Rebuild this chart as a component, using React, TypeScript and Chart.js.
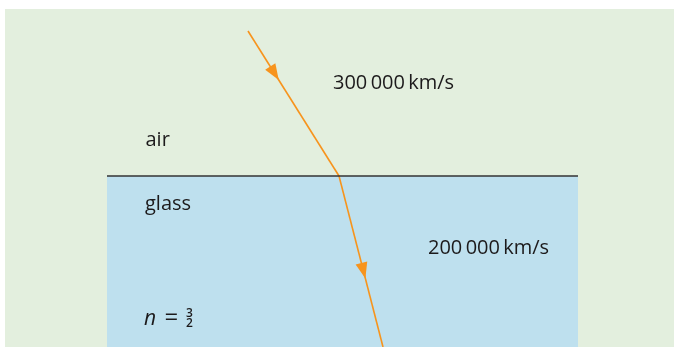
import React, { useEffect, useRef } from "react";
import { Chart, registerables } from "chart.js";
Chart.register(...registerables);

// Diagram coordinates (x to the right, y downward)
const airRegionX = [5, 674];
const airRegionY = [9, 347];
const glassRegionX = [107, 578];
const glassRegionY = [176, 347];
const interfaceX = [107, 578];
const interfaceY = [176, 176];
const incidentRayX = [248, 339];
const incidentRayY = [31, 176];
const refractedRayX = [339, 383];
const refractedRayY = [176, 347];
const arrowFractions = [0.338, 0.6];
const labelTexts = ["300\u2009000\u2009km/s", "air", "glass", "200\u2009000\u2009km/s"];
const labelX = [333, 145.5, 145, 428];
const labelY = [89, 146, 210, 254];
const indexSymbol = "n";
const indexNumerator = "3";
const indexDenominator = "2";
const indexX = [144, 164.5, 189.5];
const indexY = [325, 325];

const GREEN = "#e3efde";
const BLUE = "#bee0ee";
const ORANGE = "#f7941d";
const INK = "#1c1a1b";
const FONT = "'Open Sans', 'Noto Sans', sans-serif";

const diagramPlugin = {
  id: "diagram",
  beforeDatasetsDraw(chart: any) {
    const { ctx, scales } = chart;
    const X = (v: number) => scales.x.getPixelForValue(v);
    const Y = (v: number) => scales.y.getPixelForValue(v);
    ctx.save();
    ctx.fillStyle = GREEN;
    ctx.fillRect(X(airRegionX[0]), Y(airRegionY[0]), X(airRegionX[1]) - X(airRegionX[0]), Y(airRegionY[1]) - Y(airRegionY[0]));
    ctx.fillStyle = BLUE;
    ctx.fillRect(X(glassRegionX[0]), Y(glassRegionY[0]), X(glassRegionX[1]) - X(glassRegionX[0]), Y(glassRegionY[1]) - Y(glassRegionY[0]));
    ctx.restore();
  },
  afterDatasetsDraw(chart: any) {
    const { ctx, scales } = chart;
    const X = (v: number) => scales.x.getPixelForValue(v);
    const Y = (v: number) => scales.y.getPixelForValue(v);
    ctx.save();
    // arrowheads
    const rays = [
      [incidentRayX, incidentRayY],
      [refractedRayX, refractedRayY],
    ];
    rays.forEach(([rx, ry], i) => {
      const x0 = X(rx[0]), y0 = Y(ry[0]), x1 = X(rx[1]), y1 = Y(ry[1]);
      const dx = x1 - x0, dy = y1 - y0;
      const L = Math.hypot(dx, dy);
      const ux = dx / L, uy = dy / L;
      const f = arrowFractions[i];
      const tx = x0 + dx * f, ty = y0 + dy * f;
      const len = 16, hw = 6;
      const bx = tx - ux * len, by = ty - uy * len;
      ctx.beginPath();
      ctx.moveTo(tx, ty);
      ctx.lineTo(bx - uy * hw, by + ux * hw);
      ctx.lineTo(bx + uy * hw, by - ux * hw);
      ctx.closePath();
      ctx.fillStyle = ORANGE;
      ctx.fill();
    });
    // labels
    ctx.fillStyle = INK;
    ctx.textBaseline = "alphabetic";
    ctx.textAlign = "left";
    ctx.font = `20px ${FONT}`;
    labelTexts.forEach((t, i) => {
      ctx.fillText(t, X(labelX[i]), Y(labelY[i]));
    });
    // n = 3/2
    ctx.font = `italic 21px ${FONT}`;
    ctx.fillText(indexSymbol, X(indexX[0]), Y(indexY[0]));
    ctx.font = `24px ${FONT}`;
    ctx.fillText("=", X(indexX[1]), Y(indexY[0]));
    ctx.font = `600 12px ${FONT}`;
    ctx.textAlign = "center";
    ctx.fillText(indexNumerator, X(indexX[2]), Y(indexY[1]) - 8);
    ctx.fillText(indexDenominator, X(indexX[2]), Y(indexY[1]) + 2);
    ctx.restore();
  },
};

export default function App() {
  const ref = useRef<HTMLCanvasElement | null>(null);
  useEffect(() => {
    document.body.style.margin = "0";
    const c = ref.current!;
    const chart = new Chart(c, {
      type: "scatter",
      data: {
        datasets: [
          {
            data: interfaceX.map((x, i) => ({ x, y: interfaceY[i] })),
            showLine: true,
            borderColor: "#333333",
            borderWidth: 1.3,
            pointRadius: 0,
          },
          {
            data: incidentRayX.map((x, i) => ({ x, y: incidentRayY[i] })),
            showLine: true,
            borderColor: ORANGE,
            borderWidth: 1.6,
            pointRadius: 0,
          },
          {
            data: refractedRayX.map((x, i) => ({ x, y: refractedRayY[i] })),
            showLine: true,
            borderColor: ORANGE,
            borderWidth: 1.6,
            pointRadius: 0,
          },
        ],
      },
      options: {
        responsive: false,
        animation: false,
        layout: { padding: 0 },
        plugins: { legend: { display: false }, tooltip: { enabled: false } },
        scales: {
          x: { type: "linear", min: 0, max: 674, display: false },
          y: { type: "linear", min: 0, max: 347, reverse: true, display: false },
        },
      },
      plugins: [diagramPlugin],
    });
    return () => chart.destroy();
  }, []);
  return (
    <div style={{ position: "absolute", left: 0, top: 0, width: 674, height: 347, background: "#ffffff" }}>
      <canvas ref={ref} width={674} height={347} style={{ display: "block" }} />
    </div>
  );
}
